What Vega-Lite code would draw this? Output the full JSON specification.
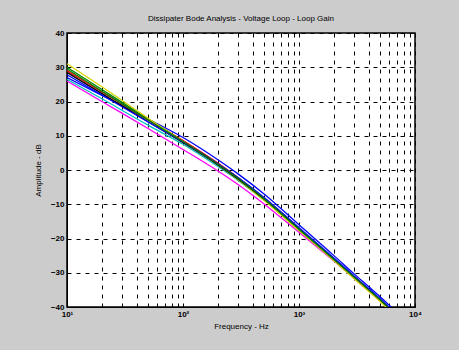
{
  "$schema": "https://vega.github.io/schema/vega-lite/v6.json",
  "autosize": {"type": "none"},
  "padding": {"left": 67, "top": 33, "right": 44, "bottom": 43},
  "width": 348,
  "height": 274,
  "background": "#cccccc",
  "config": {
    "view": {"fill": "white", "stroke": "black", "strokeWidth": 1.5},
    "font": "Liberation Sans",
    "title": {"fontSize": 8, "fontWeight": "normal", "color": "black", "offset": 6},
    "axis": {
      "domainColor": "black", "tickColor": "black", "labelColor": "black", "titleColor": "black",
      "gridColor": "black", "gridDash": [4, 5], "gridOpacity": 1, "gridWidth": 1,
      "labelFontSize": 8, "titleFontSize": 8, "titleFontWeight": "normal", "tickSize": 4, "labelFontWeight": "bold"
    }
  },
  "title": {"text": "Dissipater Bode Analysis - Voltage Loop - Loop Gain", "anchor": "middle"},
  "datasets": {
    "curves": [
      {"s": "a1", "f": 10, "db": 27}, {"s": "a1", "f": 20, "db": 21.8}, {"s": "a1", "f": 50, "db": 14.9}, {"s": "a1", "f": 100, "db": 9.5}, {"s": "a1", "f": 200, "db": 3.0}, {"s": "a1", "f": 300, "db": -1.2}, {"s": "a1", "f": 500, "db": -7.0}, {"s": "a1", "f": 1000, "db": -16.0}, {"s": "a1", "f": 2000, "db": -25.0}, {"s": "a1", "f": 3000, "db": -30.4}, {"s": "a1", "f": 4000, "db": -34.1}, {"s": "a1", "f": 5000, "db": -37.0}, {"s": "a1", "f": 6000, "db": -39.5}, {"s": "a1", "f": 7000, "db": -41.6},
      {"s": "a2", "f": 10, "db": 30}, {"s": "a2", "f": 20, "db": 23.5}, {"s": "a2", "f": 50, "db": 14.9}, {"s": "a2", "f": 100, "db": 8.5}, {"s": "a2", "f": 200, "db": 1.8}, {"s": "a2", "f": 300, "db": -2.5}, {"s": "a2", "f": 500, "db": -8.5}, {"s": "a2", "f": 1000, "db": -17.2}, {"s": "a2", "f": 2000, "db": -26.0}, {"s": "a2", "f": 3000, "db": -31.2}, {"s": "a2", "f": 4000, "db": -34.9}, {"s": "a2", "f": 5000, "db": -37.8}, {"s": "a2", "f": 6000, "db": -40.3}, {"s": "a2", "f": 7000, "db": -42.4},
      {"s": "a3", "f": 10, "db": 29}, {"s": "a3", "f": 20, "db": 22.8}, {"s": "a3", "f": 50, "db": 14.6}, {"s": "a3", "f": 100, "db": 8.6}, {"s": "a3", "f": 200, "db": 2.0}, {"s": "a3", "f": 300, "db": -2.3}, {"s": "a3", "f": 500, "db": -8.2}, {"s": "a3", "f": 1000, "db": -17.0}, {"s": "a3", "f": 2000, "db": -25.9}, {"s": "a3", "f": 3000, "db": -31.2}, {"s": "a3", "f": 4000, "db": -34.9}, {"s": "a3", "f": 5000, "db": -37.8}, {"s": "a3", "f": 6000, "db": -40.3}, {"s": "a3", "f": 7000, "db": -42.4},
      {"s": "a4", "f": 10, "db": 26.5}, {"s": "a4", "f": 20, "db": 20.8}, {"s": "a4", "f": 50, "db": 13.1}, {"s": "a4", "f": 100, "db": 7.5}, {"s": "a4", "f": 200, "db": 1.0}, {"s": "a4", "f": 300, "db": -3.1}, {"s": "a4", "f": 500, "db": -8.8}, {"s": "a4", "f": 1000, "db": -17.5}, {"s": "a4", "f": 2000, "db": -26.3}, {"s": "a4", "f": 3000, "db": -31.4}, {"s": "a4", "f": 4000, "db": -35.1}, {"s": "a4", "f": 5000, "db": -38.0}, {"s": "a4", "f": 6000, "db": -40.5}, {"s": "a4", "f": 7000, "db": -42.6},
      {"s": "a5", "f": 10, "db": 26}, {"s": "a5", "f": 20, "db": 20.0}, {"s": "a5", "f": 50, "db": 12.1}, {"s": "a5", "f": 100, "db": 6.0}, {"s": "a5", "f": 200, "db": -0.3}, {"s": "a5", "f": 300, "db": -4.3}, {"s": "a5", "f": 500, "db": -9.9}, {"s": "a5", "f": 1000, "db": -18.2}, {"s": "a5", "f": 2000, "db": -26.6}, {"s": "a5", "f": 3000, "db": -31.6}, {"s": "a5", "f": 4000, "db": -35.2}, {"s": "a5", "f": 5000, "db": -38.0}, {"s": "a5", "f": 6000, "db": -40.5}, {"s": "a5", "f": 7000, "db": -42.6},
      {"s": "a6", "f": 10, "db": 31}, {"s": "a6", "f": 20, "db": 24.3}, {"s": "a6", "f": 50, "db": 15.1}, {"s": "a6", "f": 100, "db": 8.3}, {"s": "a6", "f": 200, "db": 1.5}, {"s": "a6", "f": 300, "db": -2.9}, {"s": "a6", "f": 500, "db": -8.9}, {"s": "a6", "f": 1000, "db": -17.7}, {"s": "a6", "f": 2000, "db": -26.5}, {"s": "a6", "f": 3000, "db": -31.8}, {"s": "a6", "f": 4000, "db": -35.5}, {"s": "a6", "f": 5000, "db": -38.4}, {"s": "a6", "f": 6000, "db": -40.9}, {"s": "a6", "f": 7000, "db": -43.0},
      {"s": "a7", "f": 10, "db": 28.5}, {"s": "a7", "f": 20, "db": 22.3}, {"s": "a7", "f": 50, "db": 14.1}, {"s": "a7", "f": 100, "db": 8.0}, {"s": "a7", "f": 200, "db": 1.5}, {"s": "a7", "f": 300, "db": -2.7}, {"s": "a7", "f": 500, "db": -8.5}, {"s": "a7", "f": 1000, "db": -17.2}, {"s": "a7", "f": 2000, "db": -26.0}, {"s": "a7", "f": 3000, "db": -31.2}, {"s": "a7", "f": 4000, "db": -34.9}, {"s": "a7", "f": 5000, "db": -37.8}, {"s": "a7", "f": 6000, "db": -40.3}, {"s": "a7", "f": 7000, "db": -42.4},
      {"s": "a8", "f": 10, "db": 27.8}, {"s": "a8", "f": 20, "db": 21.9}, {"s": "a8", "f": 50, "db": 14.0}, {"s": "a8", "f": 100, "db": 8.2}, {"s": "a8", "f": 200, "db": 1.8}, {"s": "a8", "f": 300, "db": -2.3}, {"s": "a8", "f": 500, "db": -8.0}, {"s": "a8", "f": 1000, "db": -16.8}, {"s": "a8", "f": 2000, "db": -25.7}, {"s": "a8", "f": 3000, "db": -31.0}, {"s": "a8", "f": 4000, "db": -34.7}, {"s": "a8", "f": 5000, "db": -37.6}, {"s": "a8", "f": 6000, "db": -40.1}, {"s": "a8", "f": 7000, "db": -42.2},
      {"s": "a9", "f": 10, "db": 29.5}, {"s": "a9", "f": 20, "db": 23.0}, {"s": "a9", "f": 50, "db": 14.6}, {"s": "a9", "f": 100, "db": 8.3}, {"s": "a9", "f": 200, "db": 1.7}, {"s": "a9", "f": 300, "db": -2.5}, {"s": "a9", "f": 500, "db": -8.4}, {"s": "a9", "f": 1000, "db": -17.2}, {"s": "a9", "f": 2000, "db": -26.1}, {"s": "a9", "f": 3000, "db": -31.3}, {"s": "a9", "f": 4000, "db": -35.0}, {"s": "a9", "f": 5000, "db": -37.9}, {"s": "a9", "f": 6000, "db": -40.4}, {"s": "a9", "f": 7000, "db": -42.5}
    ]
  },
  "data": {"name": "curves"},
  "mark": {"type": "line", "strokeWidth": 1.3, "clip": true, "interpolate": "monotone"},
  "encoding": {
    "x": {
      "field": "f", "type": "quantitative",
      "scale": {"type": "log", "domain": [10, 10000], "nice": false},
      "axis": {
        "title": "Frequency - Hz", "titlePadding": 4, "labelPadding": 3,
        "values": [10,20,30,40,50,60,70,80,90,100,200,300,400,500,600,700,800,900,1000,2000,3000,4000,5000,6000,7000,8000,9000,10000],
        "labelExpr": "datum.value == 10 ? '10¹' : datum.value == 100 ? '10²' : datum.value == 1000 ? '10³' : datum.value == 10000 ? '10⁴' : ''",
        "labelFlush": false, "labelOverlap": false, "tickSize": 0
      }
    },
    "y": {
      "field": "db", "type": "quantitative",
      "scale": {"domain": [-40, 40], "nice": false, "zero": false},
      "axis": {"title": "Amplitude - dB", "values": [-40,-30,-20,-10,0,10,20,30,40], "titlePadding": 8, "labelPadding": 3, "tickSize": 0}
    },
    "color": {
      "field": "s", "type": "nominal", "legend": null,
      "scale": {"domain": ["a1","a2","a3","a4","a5","a6","a7","a8","a9"],
                "range": ["#0000ff","#008000","#ff0000","#00bfbf","#ff00ff","#d4d400","#000000","#0000ff","#008000"]}
    }
  }
}
